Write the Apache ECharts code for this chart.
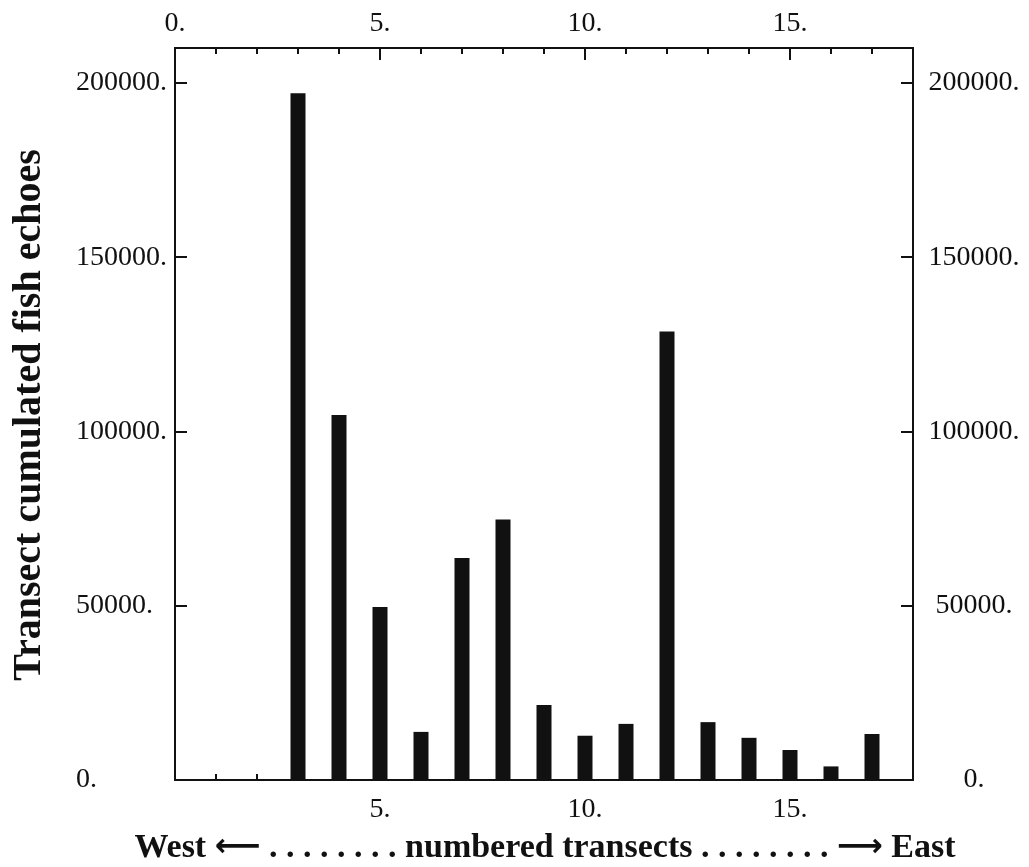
<!DOCTYPE html>
<html>
<head>
<meta charset="utf-8">
<script src="https://cdn.jsdelivr.net/npm/echarts@6/dist/echarts.min.js"></script>
<style>
  html, body { margin: 0; background: #fff; }
  #main { width: 1029px; height: 867px; }
</style>
</head>
<body>
<div id="main"></div>
<script>
// transect numbers (West -> East) and cumulated fish echoes
var transects = [1, 2, 3, 4, 5, 6, 7, 8, 9, 10, 11, 12, 13, 14, 15, 16, 17];
var echoes = [0, 0, 197000, 104700, 49600, 13800, 63700, 74700, 21500, 12700, 16100, 128700, 16600, 12100, 8600, 3900, 13200];

// tick labels
var topTickLabels = [0, 5, 10, 15];
var bottomTickLabels = [5, 10, 15];
var yTickLabels = [0, 50000, 100000, 150000, 200000];

var serif = '"Liberation Serif", "Times New Roman", serif';
var black = '#111';

var barData = transects.map(function (t, i) { return [t, echoes[i]]; });

function xAxisDef(pos, major, labels) {
  return {
    type: 'value',
    position: pos,
    min: 0,
    max: 18,
    interval: major ? 5 : 1,
    axisLine: { show: true, onZero: false, lineStyle: { color: black, width: 2 } },
    axisTick: { show: true, inside: true, length: major ? 12 : 6, lineStyle: { color: black, width: 2 } },
    axisLabel: {
      show: major,
      margin: pos == 'top' ? 10 : 16,
      color: black,
      fontFamily: serif,
      fontSize: 28,
      formatter: function (v) { return labels && labels.indexOf(v) >= 0 ? v + '.' : ''; }
    },
    splitLine: { show: false }
  };
}

function yAxisDef(pos) {
  return {
    type: 'value',
    position: pos,
    min: 0,
    max: 210000,
    interval: 50000,
    axisLine: { show: true, onZero: false, lineStyle: { color: black, width: 2 } },
    axisTick: { show: true, inside: true, length: 12, lineStyle: { color: black, width: 2 } },
    axisLabel: {
      margin: pos == 'left' ? 99 : 61,
      align: pos == 'left' ? 'left' : 'center',
      color: black,
      fontFamily: serif,
      fontSize: 28,
      formatter: function (v) { return yTickLabels.indexOf(v) >= 0 ? v + '.' : ''; }
    },
    splitLine: { show: false }
  };
}

var myChart = echarts.init(document.getElementById('main'));
var option = {
  backgroundColor: '#fff',
  animation: false,
  grid: { left: 175, right: 116, top: 48, bottom: 87, containLabel: false, outerBoundsMode: 'none' },
  xAxis: [
    xAxisDef('bottom', false),
    xAxisDef('bottom', true, bottomTickLabels),
    xAxisDef('top', false),
    xAxisDef('top', true, topTickLabels)
  ],
  yAxis: [yAxisDef('left'), yAxisDef('right')],
  series: [
    {
      type: 'bar',
      xAxisIndex: 0,
      yAxisIndex: 0,
      barWidth: 15,
      itemStyle: { color: black },
      data: barData
    }
  ],
  graphic: [
    {
      type: 'text',
      x: 30,
      y: 415,
      rotation: Math.PI / 2,
      style: {
        text: 'Transect cumulated fish echoes',
        fill: black,
        font: 'bold 40px ' + serif,
        textAlign: 'center',
        textVerticalAlign: 'middle'
      }
    },
    {
      type: 'text',
      x: 545,
      y: 848,
      style: {
        text: 'West {a|⟵} . . . . . . . . numbered transects . . . . . . . . {a|⟶} East',
        fill: black,
        font: 'bold 34px ' + serif,
        textAlign: 'center',
        textVerticalAlign: 'middle',
        rich: {
          a: { fontFamily: '"DejaVu Sans", sans-serif', fontWeight: 'bold', fontSize: 32, fill: black }
        }
      }
    }
  ]
};
myChart.setOption(option);
</script>
</body>
</html>
